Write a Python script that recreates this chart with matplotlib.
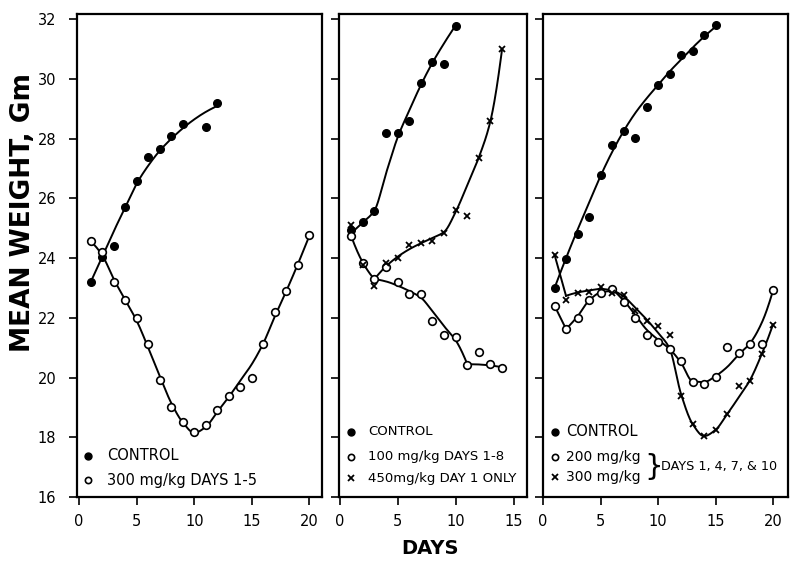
import numpy as np
import matplotlib
matplotlib.use("Agg")
import matplotlib.pyplot as plt

# ---------------- data ----------------
# Panel 1
p1_ctrl_days = [1, 2, 3, 4, 5, 6, 7, 8, 9, 11, 12]
p1_ctrl_vals = [23.2, 24.05, 24.4, 25.7, 26.6, 27.4, 27.67, 28.1, 28.5, 28.4, 29.2]
p1_300_days = list(range(1, 21))
p1_300_vals = [24.56, 24.2, 23.19, 22.6, 22.0, 21.13, 19.91, 19.0, 18.52, 18.19,
               18.42, 18.9, 19.38, 19.68, 20.0, 21.14, 22.2, 22.91, 23.78, 24.79]
# fitted (hand-drawn) curves
p1_ctrl_fit_d = [1, 2, 3, 4, 5, 6, 7, 8, 9, 10, 11, 12]
p1_ctrl_fit_v = [23.2, 24.05, 24.9, 25.7, 26.5, 27.1, 27.6, 28.0, 28.35, 28.65, 28.9, 29.1]
p1_300_fit_d = list(range(1, 21))
p1_300_fit_v = [24.55, 24.1, 23.3, 22.6, 21.9, 21.0, 20.05, 19.15, 18.5, 18.15,
                18.35, 18.85, 19.35, 19.9, 20.45, 21.15, 22.05, 22.9, 23.8, 24.75]

# Panel 2
p2_ctrl_days = list(range(1, 11))
p2_ctrl_vals = [24.93, 25.22, 25.59, 28.19, 28.21, 28.6, 29.88, 30.58, 30.51, 31.78]
p2_100_days = list(range(1, 15))
p2_100_vals = [24.73, 23.85, 23.31, 23.69, 23.2, 22.8, 22.8, 21.89, 21.42, 21.35,
               20.41, 20.85, 20.44, 20.33]
p2_450_days = list(range(1, 15))
p2_450_vals = [25.12, 23.78, 23.08, 23.84, 24.01, 24.45, 24.51, 24.56, 24.84, 25.6,
               25.4, 27.35, 28.58, 31.0]
p2_ctrl_fit_d = list(range(1, 11))
p2_ctrl_fit_v = [24.85, 25.2, 25.6, 26.85, 28.05, 28.95, 29.8, 30.55, 31.2, 31.8]
p2_shared_fit_d = [1, 2, 3]
p2_shared_fit_v = [24.73, 23.85, 23.3]
p2_100_fit_d = [3, 4, 5, 6, 7, 8, 9, 10, 11]
p2_100_fit_v = [23.3, 23.22, 23.08, 22.9, 22.68, 22.22, 21.72, 21.25, 20.45]
p2_100_tail_d = [11, 12, 13, 14]
p2_100_tail_v = [20.45, 20.44, 20.41, 20.35]
p2_450_fit_d = [3, 4, 5, 6, 7, 8, 9, 10, 11, 12, 13, 14]
p2_450_fit_v = [23.3, 23.73, 24.05, 24.3, 24.5, 24.68, 24.88, 25.55, 26.45, 27.38, 28.6, 31.0]

# Panel 3
p3_ctrl_days = list(range(1, 16))
p3_ctrl_vals = [23.0, 23.97, 24.8, 25.38, 26.77, 27.8, 28.27, 28.01, 29.08, 29.79,
                30.18, 30.81, 30.95, 31.48, 31.8]
p3_200_days = list(range(1, 21))
p3_200_vals = [22.41, 21.62, 22.0, 22.61, 22.84, 22.97, 22.52, 22.0, 21.44, 21.2,
               20.96, 20.57, 19.85, 19.8, 20.02, 21.04, 20.83, 21.12, 21.13, 22.95]
p3_300_days = list(range(1, 21))
p3_300_vals = [24.12, 22.61, 22.84, 22.86, 23.04, 22.84, 22.78, 22.22, 21.9, 21.74,
               21.44, 19.4, 18.43, 18.04, 18.26, 18.78, 19.72, 19.9, 20.8, 21.76]
p3_ctrl_fit_d = list(range(1, 16))
p3_ctrl_fit_v = [23.0, 24.0, 24.95, 25.85, 26.75, 27.55, 28.25, 28.85, 29.35, 29.8,
                 30.25, 30.65, 31.05, 31.42, 31.75]
p3_200_head_d = [1, 2]
p3_200_head_v = [22.41, 21.63]
p3_200_fit_d = list(range(2, 21))
p3_200_fit_v = [21.63, 22.05, 22.58, 22.85, 22.9, 22.58, 22.11, 21.61, 21.27, 20.96,
                20.5, 19.88, 19.85, 20.05, 20.35, 20.77, 21.15, 21.82, 22.92]
p3_300_head_d = [1, 2]
p3_300_head_v = [24.12, 22.74]
p3_300_fit_d = list(range(2, 21))
p3_300_fit_v = [22.74, 22.85, 22.92, 22.97, 22.92, 22.72, 22.35, 21.95, 21.5, 20.98,
                19.45, 18.45, 18.04, 18.25, 18.77, 19.33, 19.92, 20.77, 21.78]

y_ticks = [16, 18, 20, 22, 24, 26, 28, 30, 32]


def pchip(xk, yk, n=300):
    xk = np.asarray(xk, float)
    yk = np.asarray(yk, float)
    m = len(xk)
    if m < 3:
        return xk, yk
    h = np.diff(xk)
    delta = np.diff(yk) / h
    d = np.zeros(m)
    for k in range(1, m - 1):
        if delta[k - 1] * delta[k] <= 0:
            d[k] = 0.0
        else:
            w1 = 2 * h[k] + h[k - 1]
            w2 = h[k] + 2 * h[k - 1]
            d[k] = (w1 + w2) / (w1 / delta[k - 1] + w2 / delta[k])

    def end(h0, h1, d0, d1):
        dd = ((2 * h0 + h1) * d0 - h0 * d1) / (h0 + h1)
        if np.sign(dd) != np.sign(d0):
            dd = 0.0
        elif np.sign(d0) != np.sign(d1) and abs(dd) > abs(3 * d0):
            dd = 3 * d0
        return dd

    d[0] = end(h[0], h[1], delta[0], delta[1])
    d[-1] = end(h[-1], h[-2], delta[-1], delta[-2])
    xs = np.linspace(xk[0], xk[-1], n)
    idx = np.clip(np.searchsorted(xk, xs) - 1, 0, m - 2)
    hh = h[idx]
    t = (xs - xk[idx]) / hh
    h00 = 2 * t ** 3 - 3 * t ** 2 + 1
    h10 = t ** 3 - 2 * t ** 2 + t
    h01 = -2 * t ** 3 + 3 * t ** 2
    h11 = t ** 3 - t ** 2
    ys = (h00 * yk[idx] + h10 * hh * d[idx] + h01 * yk[idx + 1] + h11 * hh * d[idx + 1])
    return xs, ys


FS = 10.5
LW = 1.4
fig = plt.figure(figsize=(7.9, 5.62), dpi=100)

W, H = 790.0, 562.0
top_px, bot_px = 14, 497
panels = [(77, 322, (-0.19, 21.1)), (339, 527, (-0.06, 16.15)), (543, 788, (0.0, 21.3))]
axes = []
for (l, r, xl) in panels:
    ax = fig.add_axes([l / W, 1 - bot_px / H, (r - l) / W, (bot_px - top_px) / H])
    ax.set_xlim(*xl)
    ax.set_ylim(16, 32.18)
    ax.set_yticks(y_ticks)
    for s in ax.spines.values():
        s.set_linewidth(1.6)
    ax.tick_params(direction="out", length=6, width=1.2, labelsize=FS, pad=6)
    axes.append(ax)

axes[0].set_xticks([0, 5, 10, 15, 20])
axes[1].set_xticks([0, 5, 10, 15])
axes[2].set_xticks([0, 5, 10, 15, 20])
axes[0].tick_params(axis="y", pad=9)
axes[1].set_yticklabels([])
axes[2].set_yticklabels([])

filled = dict(marker="o", ms=5.5, color="black", ls="none")
hollow = dict(marker="o", ms=5.5, mfc="white", mec="black", mew=1.2, ls="none")
cross = dict(marker="x", ms=5, mec="black", mew=1.3, ls="none")


def curve(ax, d, v):
    xs, ys = pchip(d, v)
    ax.plot(xs, ys, color="black", lw=LW, zorder=2)


# Panel 1
ax = axes[0]
curve(ax, p1_ctrl_fit_d, p1_ctrl_fit_v)
curve(ax, p1_300_fit_d, p1_300_fit_v)
ax.plot(p1_ctrl_days, p1_ctrl_vals, zorder=3, **filled)
ax.plot(p1_300_days, p1_300_vals, zorder=3, **hollow)

# Panel 2
ax = axes[1]
curve(ax, p2_ctrl_fit_d, p2_ctrl_fit_v)
curve(ax, p2_shared_fit_d, p2_shared_fit_v)
curve(ax, p2_100_fit_d, p2_100_fit_v)
ax.plot(p2_100_tail_d, p2_100_tail_v, color="black", lw=LW, zorder=2)
curve(ax, p2_450_fit_d, p2_450_fit_v)
ax.plot(p2_ctrl_days, p2_ctrl_vals, zorder=3, **filled)
ax.plot(p2_100_days, p2_100_vals, zorder=3, **hollow)
ax.plot(p2_450_days, p2_450_vals, zorder=4, **cross)

# Panel 3
ax = axes[2]
curve(ax, p3_ctrl_fit_d, p3_ctrl_fit_v)
ax.plot(p3_200_head_d, p3_200_head_v, color="black", lw=LW, zorder=2)
curve(ax, p3_200_fit_d, p3_200_fit_v)
ax.plot(p3_300_head_d, p3_300_head_v, color="black", lw=LW, zorder=2)
curve(ax, p3_300_fit_d, p3_300_fit_v)
ax.plot(p3_ctrl_days, p3_ctrl_vals, zorder=3, **filled)
ax.plot(p3_200_days, p3_200_vals, zorder=3, **hollow)
ax.plot(p3_300_days, p3_300_vals, zorder=4, **cross)


# ---------------- legends ----------------
def leg(ax, mx, tx, y, style, text, fs=FS):
    ax.plot([mx], [y], transform=ax.transAxes, clip_on=False, **style)
    ax.text(tx, y, text, transform=ax.transAxes, fontsize=fs, va="center", ha="left")


leg(axes[0], 0.046, 0.121, 0.085, {**filled, "ms": 5}, "CONTROL")
leg(axes[0], 0.046, 0.121, 0.035, {**hollow, "ms": 4.5}, "300 mg/kg DAYS 1-5")

leg(axes[1], 0.062, 0.156, 0.135, {**filled, "ms": 5}, "CONTROL", fs=9.5)
leg(axes[1], 0.062, 0.156, 0.083, {**hollow, "ms": 4.5}, "100 mg/kg DAYS 1-8", fs=9.5)
leg(axes[1], 0.062, 0.156, 0.039, {**cross, "ms": 4.5}, "450mg/kg DAY 1 ONLY", fs=9.5)

leg(axes[2], 0.049, 0.094, 0.135, {**filled, "ms": 5}, "CONTROL")
leg(axes[2], 0.049, 0.094, 0.083, {**hollow, "ms": 4.5}, "200 mg/kg", fs=10)
leg(axes[2], 0.049, 0.094, 0.042, {**cross, "ms": 4.5}, "300 mg/kg", fs=10)
axes[2].text(0.452, 0.063, "}", transform=axes[2].transAxes, fontsize=21,
             va="center", ha="center")
axes[2].text(0.482, 0.063, "DAYS 1, 4, 7, & 10", transform=axes[2].transAxes,
             fontsize=9.2, va="center", ha="left")

fig.text(23 / W, 1 - 213 / H, "MEAN WEIGHT, Gm", rotation=90, fontsize=19,
         fontweight="bold", ha="center", va="center")
fig.text(430 / W, 1 - 548 / H, "DAYS", fontsize=14, fontweight="bold",
         ha="center", va="center")

fig.savefig("out.png", dpi=100)
